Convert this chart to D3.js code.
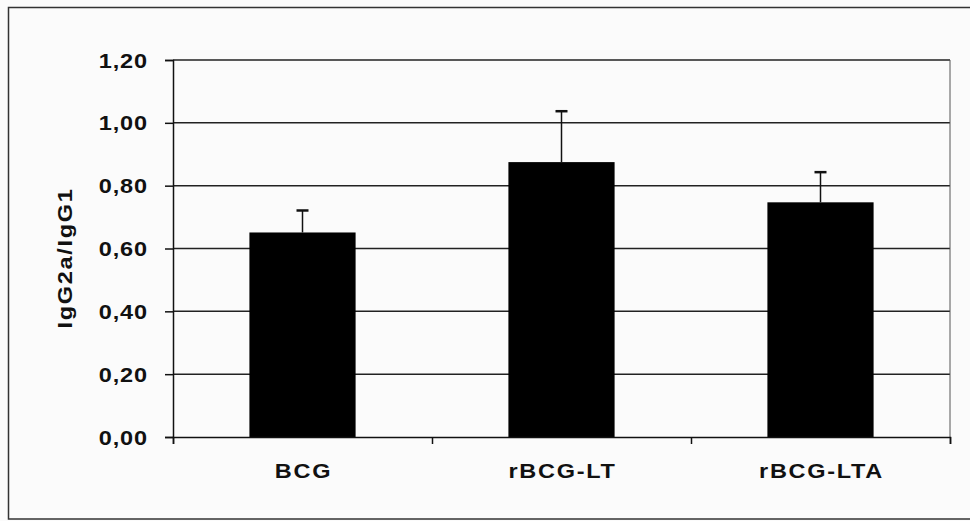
<!DOCTYPE html>
<html><head><meta charset="utf-8">
<script src="https://cdn.jsdelivr.net/npm/d3@7"></script>
<style>body{margin:0;background:#fff}svg{display:block}</style>
</head><body>
<script>
const categories = ["BCG", "rBCG-LT", "rBCG-LTA"];
const means = [0.651, 0.875, 0.747];
const errors = [0.070, 0.162, 0.096];
const yTicks = [0, 0.2, 0.4, 0.6, 0.8, 1.0, 1.2];
const yLabel = "IgG2a/IgG1";

const W = 970, H = 521;
const svg = d3.select("body").append("svg").attr("width", W).attr("height", H);
svg.append("rect").attr("width", W).attr("height", H).attr("fill", "#fbfbfb");
// outer frame
svg.append("rect").attr("x", 8.5).attr("y", 7.5).attr("width", 980).attr("height", 511.5)
  .attr("fill", "none").attr("stroke", "#333").attr("stroke-width", 1.5);

const m = {l: 173, r: 950, t: 60, b: 437};
const x = d3.scaleBand().domain(categories).range([m.l, m.r]).paddingInner(0.59).paddingOuter(0.295);
const y = d3.scaleLinear().domain([0, 1.2]).range([m.b, m.t]);
const fmt = d => d.toFixed(2).replace(".", ",");
const font = "Arial, 'Liberation Sans', sans-serif";
const sx = 1.12;

// gridlines
svg.append("g").selectAll("line").data(yTicks.filter(d => d > 0)).join("line")
  .attr("x1", m.l).attr("x2", m.r).attr("y1", d => y(d)).attr("y2", d => y(d))
  .attr("stroke", "#222").attr("stroke-width", 1.5);
// right border
svg.append("line").attr("x1", m.r).attr("x2", m.r).attr("y1", m.t).attr("y2", m.b)
  .attr("stroke", "#555").attr("stroke-width", 1);

// bars
svg.append("g").selectAll("rect").data(categories).join("rect")
  .attr("x", d => x(d)).attr("width", x.bandwidth())
  .attr("y", (d, i) => y(means[i])).attr("height", (d, i) => y(0) - y(means[i]))
  .attr("fill", "#000");

// error bars
const eb = svg.append("g").attr("stroke", "#111").attr("stroke-width", 1.5);
categories.forEach((c, i) => {
  const cx = x(c) + x.bandwidth() / 2;
  eb.append("line").attr("x1", cx).attr("x2", cx).attr("y1", y(means[i])).attr("y2", y(means[i] + errors[i]));
  eb.append("line").attr("x1", cx - 6).attr("x2", cx + 6).attr("y1", y(means[i] + errors[i])).attr("y2", y(means[i] + errors[i])).attr("stroke-width", 2.5);
});

// y axis
const ya = svg.append("g").attr("transform", `translate(${m.l},0)`)
  .call(d3.axisLeft(y).tickValues(yTicks).tickFormat("").tickSize(8));
ya.select(".domain").attr("stroke", "#111").attr("stroke-width", 1.5);
ya.selectAll(".tick line").attr("stroke", "#111").attr("stroke-width", 1.5);
ya.selectAll("text").remove();

svg.append("g").selectAll("text").data(yTicks).join("text")
  .attr("transform", d => `translate(148,${y(d) + 7.5}) scale(${sx},1)`)
  .attr("text-anchor", "end").attr("font-family", font).attr("font-weight", "bold")
  .attr("font-size", 21).attr("fill", "#111").attr("letter-spacing", 0.8).text(fmt);

// x axis
const xb = d3.scaleLinear().domain([0, categories.length]).range([m.l, m.r]);
const xa = svg.append("g").attr("transform", `translate(0,${m.b})`)
  .call(d3.axisBottom(xb).tickValues(d3.range(categories.length + 1)).tickFormat("").tickSize(7));
xa.select(".domain").attr("stroke", "#111").attr("stroke-width", 1.5);
xa.selectAll(".tick line").attr("stroke", "#111").attr("stroke-width", 1.5);

svg.append("g").selectAll("text").data(categories).join("text")
  .attr("transform", d => `translate(${x(d) + x.bandwidth() / 2 + 1},478) scale(${sx},1)`)
  .attr("text-anchor", "middle").attr("font-family", font).attr("font-weight", "bold")
  .attr("font-size", 21).attr("fill", "#111").attr("letter-spacing", 1.5).text(d => d);

svg.append("text").attr("transform", `translate(72,258) rotate(-90) scale(${sx},1)`)
  .attr("text-anchor", "middle").attr("font-family", font).attr("font-weight", "bold")
  .attr("font-size", 21).attr("fill", "#111").attr("letter-spacing", 1.5).text(yLabel);
</script>
</body></html>
